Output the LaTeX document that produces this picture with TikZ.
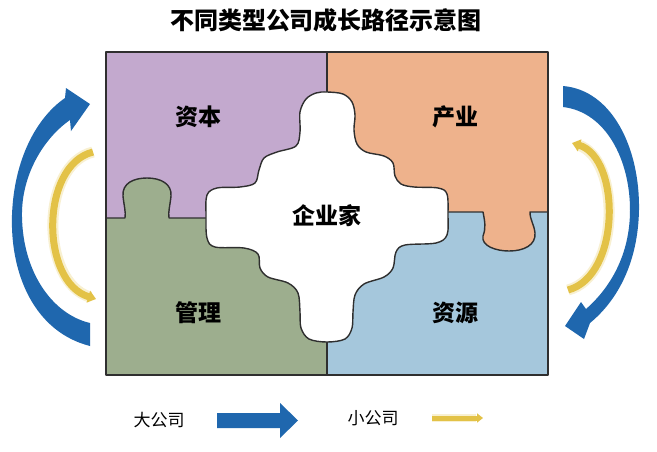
\documentclass[tikz,border=0pt]{standalone}
\usepackage{fontspec}
\newfontfamily\cjk{Noto Sans CJK SC}
\usetikzlibrary{arrows.meta}
\definecolor{purp}{HTML}{C3A9CE}
\definecolor{oran}{HTML}{EEB28C}
\definecolor{gren}{HTML}{9DAE8E}
\definecolor{blu}{HTML}{A5C7DC}
\definecolor{edgec}{HTML}{2F2F2F}
\definecolor{arrblue}{HTML}{1F67AE}
\definecolor{arryel}{HTML}{E3C247}
\tikzset{
 piece/.style={draw=edgec, line width=1.4pt, line join=round},
 lbl/.style={font=\cjk\bfseries\fontsize{23}{23}\selectfont, text=black, inner sep=0pt},
 legendtxt/.style={font=\cjk\fontsize{17}{17}\selectfont, inner sep=0pt},
 bigarrow/.style={fill=arrblue, draw=none},
 smallarrow/.style={draw=arryel, line width=7pt, -{Triangle[length=8pt,width=12pt]}},
 glow/.style={draw=arryel!25, line width=11pt},
}
\begin{document}
\begin{tikzpicture}[x=1pt,y=-1pt]
\useasboundingbox (0,0) rectangle (657,451);
\fill[white] (0,0) rectangle (657,451);
% quadrants
\fill[purp] (106,52) rectangle (327,218);
\fill[oran] (327,52) rectangle (548,212);
\fill[gren] (106,218) rectangle (327,375);
\fill[blu] (327,212) rectangle (548,375);
% lobes
\fill[gren] (125,219) .. controls (126,212) and (124,206) .. (123,196) .. controls (122,183) and (134,178) .. (147,178) .. controls (161,178) and (172,184) .. (171,196) .. controls (170,206) and (168,212) .. (169,219) -- cycle;
\fill[oran] (483,211) .. controls (485,222) and (486,228) .. (483,236) .. controls (481,246) and (496,251) .. (509,251) .. controls (524,251) and (536,245) .. (535,233) .. controls (534,224) and (530,220) .. (530,211) -- cycle;
% divider lines
\draw[piece] (327,52) -- (327,375);
\draw[piece] (106,218) -- (125,218) .. controls (126,212) and (124,206) .. (123,196) .. controls (122,183) and (134,178) .. (147,178) .. controls (161,178) and (172,184) .. (171,196) .. controls (170,206) and (168,212) .. (169,218) -- (210,218);
\draw[piece] (445,212) -- (483,212) .. controls (485,222) and (486,228) .. (483,236) .. controls (481,246) and (496,251) .. (509,251) .. controls (524,251) and (536,245) .. (535,233) .. controls (534,224) and (530,220) .. (530,212) -- (548,212);
% centre piece
\draw[piece, fill=white] plot[smooth cycle, tension=0.55] coordinates {
(327,92) (343,94) (352,102) (355,115) (354,130) (357,144) (366,152) (384,156)
(393,163) (395,176) (401,184) (414,187) (438,188) (447,194) (448,215) (447,235)
(436,243) (405,245) (396,252) (393,268) (384,277) (364,284) (355,295) (353,312)
(352,328) (345,339) (327,342) (309,339) (301,328) (300,312) (298,293) (288,283)
(268,277) (260,268) (258,254) (244,248) (215,247) (207,238) (206,215) (207,195)
(217,188) (240,187) (255,183) (259,170) (264,158) (277,152) (296,146) (300,132)
(300,112) (306,99) (316,93)};
% outer frame
\draw[piece] (106,52) rectangle (548,375);
% labels
\node[font=\cjk\bfseries\fontsize{24}{24}\selectfont, inner sep=0pt] (title) at (326,20) {不同类型公司成长路径示意图};
\node[lbl] (ziben) at (198,117) {资本};
\node[lbl] (chanye) at (455,117) {产业};
\node[lbl] (qiye) at (327,216) {企业家};
\node[lbl] (guanli) at (198,313) {管理};
\node[lbl] (ziyuan) at (455,313) {资源};
% big blue arcs
\fill[arrblue] (90,346) .. controls (35,332) and (10,275) .. (12,215) .. controls (14,160) and (36,118) .. (65,98) -- (66,88) -- (90,104) -- (71,131) -- (70,120) .. controls (44,138) and (21,175) .. (22,217) .. controls (23,272) and (52,314) .. (90,323) -- cycle;
\fill[arrblue] (563,86) .. controls (612,90) and (640,148) .. (639,210) .. controls (638,262) and (618,300) .. (590,323) -- (584,339) -- (565,326) -- (581,302) -- (586,309) .. controls (610,288) and (630,255) .. (630,210) .. controls (630,160) and (606,112) .. (563,107) -- cycle;
% yellow arcs
\draw[glow] (93,152) .. controls (40,165) and (40,282) .. (90,297);
\draw[smallarrow] (93,152) .. controls (40,165) and (40,282) .. (96,299);
\draw[glow] (568,290) .. controls (621,276) and (621,158) .. (578,145);
\draw[smallarrow] (568,290) .. controls (621,276) and (621,158) .. (572,143);
% legend
\node[legendtxt] (dagongsi) at (159,420) {大公司};
\node[legendtxt] (xiaogongsi) at (373,418) {小公司};
\fill[arrblue] (217,413) -- (280,413) -- (280,403) -- (298,420.5) -- (280,438) -- (280,428) -- (217,428) -- cycle;
\coordinate (ys) at (432,418);
\coordinate (ye) at (483,418);
\draw[draw=arryel!25, line width=8pt] (ys) -- (476,418);
\draw[draw=arryel, line width=5pt, -{Triangle[length=6pt,width=9pt]}] (ys) -- (ye);
\end{tikzpicture}
\end{document}
